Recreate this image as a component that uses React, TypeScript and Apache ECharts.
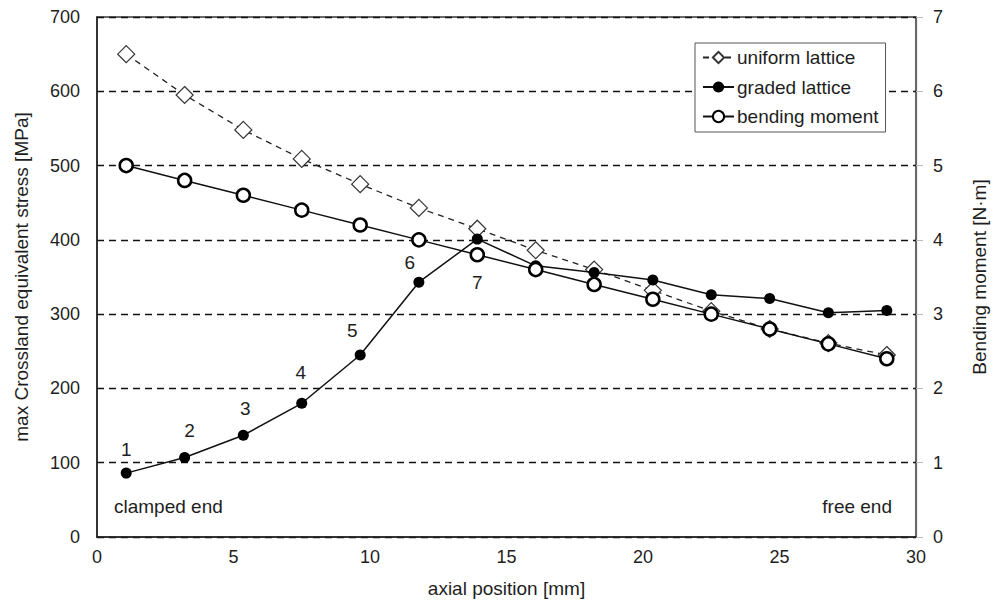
import React, { useEffect, useRef } from "react";
import * as echarts from "echarts";

const positions = [1.07, 3.21, 5.36, 7.5, 9.64, 11.79, 13.93, 16.07, 18.21, 20.36, 22.5, 24.64, 26.79, 28.93];
const uniformLattice = [650, 595, 548, 509, 475, 443, 415, 386, 360, 332, 304, 280, 261, 245];
const gradedLattice = [86, 107, 137, 180, 245, 343, 401, 365, 356, 346, 326, 321, 302, 305];
const bendingMoment = [5.0, 4.8, 4.6, 4.4, 4.2, 4.0, 3.8, 3.6, 3.4, 3.2, 3.0, 2.8, 2.6, 2.4];
const pointLabels = ["1", "2", "3", "4", "5", "6", "7"];
const seriesNames = ["uniform lattice", "graded lattice", "bending moment"];
const xTitle = "axial position [mm]";
const yLeftTitle = "max Crossland equivalent stress [MPa]";
const yRightTitle = "Bending moment [N·m]";
const endLabels = ["clamped end", "free end"];

const FONT = "'Liberation Sans', Arial, sans-serif";
const TXT = "#1e1e1e";

// label placement (style only): [position, dx, dy]
const labelPlace: [string, number, number][] = [
  ["top", 0, -4],
  ["top", 5, -7],
  ["top", 2, -7],
  ["top", -1, -11],
  ["top", -8, -5],
  ["top", -9, 0],
  ["bottom", 0, 23],
];

export default function App() {
  const ref = useRef<HTMLDivElement>(null);
  useEffect(() => {
    document.body.style.margin = "0";
    if (!ref.current) return;
    const chart = echarts.init(ref.current, undefined, { renderer: "svg" });
    const gradedData = gradedLattice.map((v, i) => {
      const item: any = { value: [positions[i], v] };
      if (i < pointLabels.length) {
        const p = labelPlace[i];
        item.label = {
          show: true,
          formatter: pointLabels[i],
          position: p[0],
          distance: 5,
          offset: [p[1], p[2]],
          fontSize: 19,
          lineHeight: 19,
          color: TXT,
          fontFamily: FONT,
        };
      }
      return item;
    });
    chart.setOption({
      animation: false,
      textStyle: { fontFamily: FONT },
      grid: {
        left: 97,
        right: 80,
        top: 17,
        bottom: 67,
        show: true,
        borderColor: "#3a3a3a",
        borderWidth: 1.5,
        backgroundColor: "transparent",
      },
      legend: {
        orient: "vertical",
        left: 695,
        top: 43,
        padding: [5, 7, 6, 7],
        itemGap: 10.5,
        itemWidth: 31,
        itemHeight: 14,
        backgroundColor: "#fff",
        borderColor: "#555",
        borderWidth: 1,
        textStyle: { fontSize: 19, lineHeight: 19, color: TXT, fontFamily: FONT, padding: [0, 0, 0, -2] },
        data: seriesNames,
      },
      xAxis: {
        type: "value",
        min: 0,
        max: 30,
        interval: 5,
        name: xTitle,
        nameLocation: "middle",
        nameGap: 42,
        nameTextStyle: { fontSize: 19, color: TXT, fontFamily: FONT },
        axisLine: { lineStyle: { color: "#222", width: 1.5 } },
        axisTick: { show: false },
        axisLabel: { fontSize: 18, color: TXT, margin: 11, fontFamily: FONT },
        splitLine: { show: false },
      },
      yAxis: [
        {
          type: "value",
          min: 0,
          max: 700,
          interval: 100,
          name: yLeftTitle,
          nameLocation: "middle",
          nameGap: 66,
          nameTextStyle: { fontSize: 19, color: TXT, fontFamily: FONT },
          axisLine: { show: true, lineStyle: { color: "#222", width: 1.5 } },
          axisTick: { show: false },
          axisLabel: { fontSize: 18, color: TXT, margin: 17, fontFamily: FONT },
          splitLine: { show: true, lineStyle: { color: "#111", width: 1.3, type: [7, 5] } },
        },
        {
          type: "value",
          min: 0,
          max: 7,
          interval: 1,
          position: "right",
          name: yRightTitle,
          nameLocation: "middle",
          nameGap: 54,
          nameTextStyle: { fontSize: 19, color: TXT, fontFamily: FONT },
          axisLine: { show: true, lineStyle: { color: "#666", width: 1.2 } },
          axisTick: { show: true, length: 7, lineStyle: { color: "#bbb", width: 1 } },
          axisLabel: { fontSize: 18, color: TXT, margin: 17, fontFamily: FONT },
          splitLine: { show: false },
        },
      ],
      graphic: [
        {
          type: "text",
          left: 114,
          top: 497,
          style: { text: endLabels[0], fontSize: 19, fill: TXT, fontFamily: FONT },
        },
        {
          type: "text",
          right: 105,
          top: 497,
          style: { text: endLabels[1], fontSize: 19, fill: TXT, fontFamily: FONT },
        },
      ],
      series: [
        {
          name: seriesNames[0],
          type: "line",
          data: uniformLattice.map((v, i) => [positions[i], v]),
          symbol: "diamond",
          symbolSize: 17,
          lineStyle: { color: "#222", width: 1.3, type: [6, 5] },
          itemStyle: { color: "#fff", borderColor: "#333", borderWidth: 1.2 },
          z: 2,
        },
        {
          name: seriesNames[1],
          type: "line",
          data: gradedData,
          symbol: "circle",
          symbolSize: 11,
          lineStyle: { color: "#111", width: 1.5 },
          itemStyle: { color: "#000", borderColor: "#000", borderWidth: 0 },
          z: 3,
        },
        {
          name: seriesNames[2],
          type: "line",
          yAxisIndex: 1,
          data: bendingMoment.map((v, i) => [positions[i], v]),
          symbol: "circle",
          symbolSize: 13,
          lineStyle: { color: "#111", width: 1.5 },
          itemStyle: { color: "#fff", borderColor: "#000", borderWidth: 2.5 },
          z: 4,
        },
      ],
    });
    return () => chart.dispose();
  }, []);
  return <div ref={ref} style={{ width: 997, height: 604 }} />;
}
